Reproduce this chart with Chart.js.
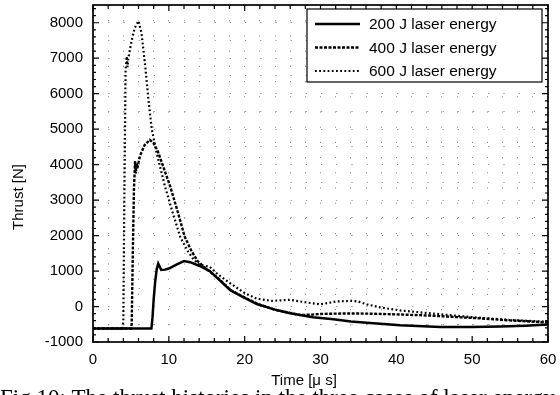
<!DOCTYPE html>
<html><head><meta charset="utf-8">
<script src="https://cdn.jsdelivr.net/npm/chart.js@4/dist/chart.umd.min.js"></script>
<style>html,body{margin:0;padding:0;background:#fff;overflow:hidden}#wrap{width:560px;height:395px;position:relative}</style>
</head><body><div id="wrap"><canvas id="c" width="560" height="395"></canvas></div>
<script>
const seriesLabels = ['200 J laser energy', '400 J laser energy', '600 J laser energy'];
const xTitle = 'Time [\u03bc s]';
const yTitle = 'Thrust [N]';
const caption = 'Fig.10: The thrust histories in the three cases of laser energy';
const xTickLabels = [0, 10, 20, 30, 40, 50, 60];
const yTickLabels = [-1000, 0, 1000, 2000, 3000, 4000, 5000, 6000, 7000, 8000];

const time200 = [0, 7.7, 7.85, 8.0, 8.2, 8.4, 8.6, 8.8, 9.0, 9.5, 10, 11, 12, 12.8, 14, 15.4, 17, 18.1, 19.8, 21.6, 24.2, 26, 27.3, 29, 31.7, 34, 36.1, 40.5, 45.8, 50, 53.7, 57, 60];
const thrust200 = [-620, -620, -300, 200, 700, 1050, 1210, 1120, 1030, 1040, 1070, 1180, 1280, 1250, 1150, 1000, 680, 458, 268, 70, -100, -190, -240, -300, -360, -420, -455, -530, -575, -580, -565, -540, -510];

const time400 = [0, 5.0, 5.1, 5.25, 5.4, 5.55, 5.65, 5.75, 5.85, 6.2, 6.8, 7.5, 8.0, 8.5, 8.8, 9.5, 10.2, 11.2, 12.1, 13, 13.8, 15, 16.5, 18.1, 20, 22, 24, 26, 27.3, 29, 30, 32, 34, 36, 38, 40.5, 44.5, 50, 55, 60];
const thrust400 = [-620, -620, -500, 1500, 3300, 4100, 3750, 4050, 3900, 4250, 4550, 4700, 4600, 4400, 4223, 3800, 3376, 2650, 1963, 1560, 1280, 1050, 800, 470, 250, 50, -90, -180, -240, -225, -210, -200, -195, -200, -210, -225, -255, -320, -390, -450];

const time600 = [0, 3.9, 4.0, 4.15, 4.3, 4.45, 4.55, 4.65, 4.75, 5.1, 5.5, 6.0, 6.4, 6.9, 7.3, 7.75, 8.4, 9.5, 10.5, 11.5, 12.5, 13.3, 14, 15.4, 16.5, 18.1, 20, 21.6, 23.5, 26, 28, 30, 32, 34, 35, 36.1, 38, 40.5, 44.9, 50, 55, 60];
const thrust600 = [-620, -620, -400, 3500, 6700, 7050, 6750, 7000, 7100, 7500, 7850, 8050, 7700, 6750, 5850, 5000, 4320, 3380, 2650, 1963, 1560, 1320, 1180, 1120, 900, 655, 380, 222, 160, 190, 120, 60, 140, 160, 140, 60, -30, -110, -200, -300, -380, -430];

const pts = (xs, ys) => xs.map((x, i) => ({x: x, y: ys[i]}));
const styles = [
  {dash: [], width: 2.5, order: 0},
  {dash: [3, 1.5], width: 2.4, order: 1},
  {dash: [1.8, 2.4], width: 2.2, order: 2}
];
const seriesData = [pts(time200, thrust200), pts(time400, thrust400), pts(time600, thrust600)];

const FONT = '"Liberation Sans", Arial, Helvetica, sans-serif';

const decor = {
  id: 'decor',
  afterDraw(chart) {
    const ctx = chart.ctx, a = chart.chartArea;
    const xs = chart.scales.x, ys = chart.scales.y;
    ctx.save();
    ctx.strokeStyle = '#000';
    ctx.lineWidth = 1.2;
    ctx.beginPath();
    for (let v = 0; v <= 60; v += 2) {
      const px = xs.getPixelForValue(v);
      const len = (v % 10 === 0) ? 6 : 4;
      ctx.moveTo(px, a.bottom); ctx.lineTo(px, a.bottom - len);
      ctx.moveTo(px, a.top); ctx.lineTo(px, a.top + len);
    }
    for (let v = -1000; v <= 8400; v += 200) {
      const py = ys.getPixelForValue(v);
      const len = (v % 1000 === 0) ? 6 : 3;
      ctx.moveTo(a.left, py); ctx.lineTo(a.left + len, py);
      ctx.moveTo(a.right, py); ctx.lineTo(a.right - len, py);
    }
    ctx.stroke();
    ctx.lineWidth = 1.7;
    ctx.strokeRect(a.left, a.top, a.right - a.left, a.bottom - a.top);
    // legend
    const lx = 307, ly = 9, lw = 235, lh = 73;
    ctx.fillStyle = '#fff';
    ctx.fillRect(lx, ly, lw, lh);
    ctx.lineWidth = 1.2;
    ctx.strokeRect(lx, ly, lw, lh);
    ctx.font = '15.5px ' + FONT;
    ctx.textBaseline = 'middle';
    ctx.textAlign = 'left';
    chart.data.datasets.forEach((ds, i) => {
      const yy = 24 + i * 23.5;
      ctx.save();
      ctx.strokeStyle = '#000';
      ctx.lineWidth = ds.borderWidth;
      ctx.setLineDash(ds.borderDash);
      ctx.beginPath();
      ctx.moveTo(315, yy); ctx.lineTo(360, yy);
      ctx.stroke();
      ctx.restore();
      ctx.fillStyle = '#000';
      ctx.fillText(ds.label, 369, yy + 1);
    });
    // axis titles
    ctx.font = '15px ' + FONT;
    ctx.textAlign = 'center';
    ctx.fillText(xTitle, 304, 381);
    ctx.save();
    ctx.translate(19, 197);
    ctx.rotate(-Math.PI / 2);
    ctx.fillText(yTitle, 0, 0);
    ctx.restore();
    // caption (cut at bottom)
    ctx.font = '23px "Liberation Serif", "DejaVu Serif", serif';
    ctx.textAlign = 'left';
    ctx.textBaseline = 'alphabetic';
    ctx.fillText(caption, 0, 405);
    ctx.restore();
  }
};

new Chart(document.getElementById('c'), {
  type: 'line',
  data: {
    datasets: seriesLabels.map((lab, i) => ({
      label: lab,
      data: seriesData[i],
      borderColor: '#000',
      backgroundColor: '#000',
      borderWidth: styles[i].width,
      borderDash: styles[i].dash,
      pointRadius: 0,
      tension: 0,
      fill: false,
      order: styles[i].order
    }))
  },
  options: {
    responsive: false,
    devicePixelRatio: 1,
    animation: false,
    layout: {padding: {left: 0, right: 12, top: 5, bottom: 0}},
    plugins: {legend: {display: false}, tooltip: {enabled: false}},
    scales: {
      x: {
        type: 'linear', min: 0, max: 60,
        border: {display: false, dash: [1.2, 14]},
        grid: {color: '#999', lineWidth: 1, drawTicks: false},
        ticks: {
          stepSize: 2, autoSkip: false, maxRotation: 0, padding: 9,
          color: '#000', font: {family: FONT, size: 15},
          callback: (v) => xTickLabels.includes(v) ? String(v) : ''
        },
        afterFit: (s) => { s.height = 53; s.paddingLeft = 0; s.paddingRight = 0; }
      },
      y: {
        type: 'linear', min: -1000, max: 8500,
        border: {display: false, dash: [1.2, 14]},
        grid: {color: '#999', lineWidth: 1, drawTicks: false},
        ticks: {
          stepSize: 500, autoSkip: false, padding: 10,
          color: '#000', font: {family: FONT, size: 15},
          callback: (v) => yTickLabels.includes(v) ? String(v) : ''
        },
        afterFit: (s) => { s.width = 93; s.paddingTop = 0; s.paddingBottom = 0; }
      }
    }
  },
  plugins: [decor]
});
</script>
</body></html>
